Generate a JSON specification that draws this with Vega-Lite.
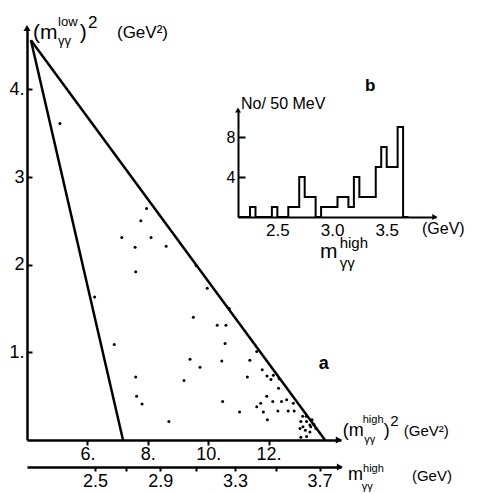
{
  "$schema": "https://vega.github.io/schema/vega-lite/v6.json",
  "width": 314,
  "height": 412,
  "autosize": "none",
  "padding": {"left": 27, "top": 28, "right": 139, "bottom": 54},
  "background": "white",
  "config": {
    "view": {"stroke": null},
    "font": "Liberation Sans",
    "axis": {"grid": false, "domainColor": "#000", "tickColor": "#000", "labelColor": "#000", "domainWidth": 2.5, "tickWidth": 2, "labelFont": "Liberation Sans", "labelFontSize": 18, "labelFlush": false, "labelOverlap": false},
    "text": {"font": "Liberation Sans", "color": "#000"}
  },
  "datasets": {
    "bounds": [
      {"x1": 4.13, "y1": 4.56, "x2": 7.18, "y2": 0},
      {"x1": 4.13, "y1": 4.56, "x2": 13.87, "y2": 0}
    ],
    "events": [
      {"x": 5.09, "y": 3.61}, {"x": 6.24, "y": 1.63}, {"x": 7.96, "y": 2.64}, {"x": 7.77, "y": 2.50},
      {"x": 7.14, "y": 2.31}, {"x": 8.11, "y": 2.31}, {"x": 7.58, "y": 2.20}, {"x": 8.61, "y": 2.21},
      {"x": 7.60, "y": 1.92}, {"x": 9.60, "y": 1.99}, {"x": 9.97, "y": 1.73}, {"x": 10.70, "y": 1.50},
      {"x": 9.51, "y": 1.40}, {"x": 10.30, "y": 1.31}, {"x": 10.59, "y": 1.31}, {"x": 6.89, "y": 1.09},
      {"x": 10.56, "y": 1.10}, {"x": 9.40, "y": 0.92}, {"x": 9.73, "y": 0.83}, {"x": 10.45, "y": 0.90},
      {"x": 9.20, "y": 0.68}, {"x": 7.60, "y": 0.72}, {"x": 7.63, "y": 0.50}, {"x": 7.81, "y": 0.41},
      {"x": 8.70, "y": 0.21}, {"x": 10.48, "y": 0.44}, {"x": 11.04, "y": 0.32}, {"x": 11.61, "y": 1.01},
      {"x": 11.38, "y": 0.91}, {"x": 11.79, "y": 0.80}, {"x": 11.30, "y": 0.72}, {"x": 11.95, "y": 0.73},
      {"x": 12.16, "y": 0.74}, {"x": 12.08, "y": 0.69}, {"x": 12.35, "y": 0.70}, {"x": 12.33, "y": 0.59},
      {"x": 11.94, "y": 0.50}, {"x": 11.74, "y": 0.42}, {"x": 11.61, "y": 0.38}, {"x": 12.14, "y": 0.44},
      {"x": 12.43, "y": 0.44}, {"x": 12.60, "y": 0.46}, {"x": 12.82, "y": 0.42}, {"x": 11.83, "y": 0.32},
      {"x": 12.31, "y": 0.33}, {"x": 12.65, "y": 0.33}, {"x": 12.85, "y": 0.33}, {"x": 11.96, "y": 0.23},
      {"x": 13.13, "y": 0.27}, {"x": 13.25, "y": 0.27}, {"x": 13.07, "y": 0.21}, {"x": 13.26, "y": 0.21},
      {"x": 13.14, "y": 0.15}, {"x": 13.04, "y": 0.13}, {"x": 13.22, "y": 0.11}, {"x": 13.37, "y": 0.09},
      {"x": 13.07, "y": 0.03}, {"x": 13.26, "y": 0.04}, {"x": 13.44, "y": 0.23}, {"x": 13.50, "y": 0.18},
      {"x": 13.40, "y": 0.15}, {"x": 13.57, "y": 0.13}, {"x": 13.37, "y": 0.17}
    ],
    "hist": [
      {"e": 2.14, "n": 0}, {"e": 2.25, "n": 1}, {"e": 2.30, "n": 0}, {"e": 2.45, "n": 1}, {"e": 2.50, "n": 0},
      {"e": 2.60, "n": 1}, {"e": 2.65, "n": 1}, {"e": 2.70, "n": 4}, {"e": 2.75, "n": 2}, {"e": 2.80, "n": 2},
      {"e": 2.85, "n": 0}, {"e": 2.90, "n": 1}, {"e": 2.95, "n": 1}, {"e": 3.00, "n": 1}, {"e": 3.05, "n": 2},
      {"e": 3.10, "n": 2}, {"e": 3.15, "n": 1}, {"e": 3.20, "n": 4}, {"e": 3.25, "n": 2}, {"e": 3.30, "n": 2},
      {"e": 3.35, "n": 2}, {"e": 3.40, "n": 5}, {"e": 3.45, "n": 7}, {"e": 3.50, "n": 5}, {"e": 3.55, "n": 5},
      {"e": 3.60, "n": 9}, {"e": 3.65, "n": 0}, {"e": 3.70, "n": 0}
    ],
    "yTitleBig": [{"x": 4.2, "y": 4.64, "t": "(m"}, {"x": 5.75, "y": 4.64, "t": ")"}],
    "yTitleSmall": [{"x": 5.03, "y": 4.77, "t": "low"}, {"x": 5.03, "y": 4.55, "t": "γγ"}],
    "yTitleMid": [{"x": 6.02, "y": 4.76, "t": "2"}, {"x": 6.98, "y": 4.64, "t": "(GeV²)"}],
    "xTitleBig": [{"x": 14.46, "y": 0.103, "t": "(m"}, {"x": 15.82, "y": 0.103, "t": ")"}, {"x": 14.63, "y": -0.40, "t": "m"}],
    "xTitleSmall": [
      {"x": 15.12, "y": 0.23, "t": "high"}, {"x": 15.17, "y": 0.0, "t": "γγ"},
      {"x": 15.13, "y": -0.33, "t": "high"}, {"x": 15.09, "y": -0.54, "t": "γγ"}
    ],
    "xTitleMid": [
      {"x": 16.03, "y": 0.22, "t": "2"}, {"x": 16.48, "y": 0.103, "t": "(GeV²)"},
      {"x": 16.75, "y": -0.41, "t": "(GeV)"}
    ],
    "panelA": [{"x": 13.83, "y": 0.87, "t": "a"}],
    "upArrow": [{"x": 4, "y": 4.7}],
    "rightArrow": [{"x": 14.33, "y": 0}],
    "arrow2": [{"m": 3.79, "v": -0.308}],
    "insetUp": [{"e": 2.14, "n": 10.7}],
    "insetRight": [{"e": 3.94, "n": 0}],
    "insetText": [{"e": 2.167, "n": 11.3, "t": "No/ 50 MeV"}, {"e": 3.823, "n": -1.2, "t": "(GeV)"}],
    "insetB": [{"e": 3.348, "n": 13.1, "t": "b"}],
    "insetBig": [{"e": 2.89, "n": -3.5, "t": "m"}],
    "insetSmall": [{"e": 3.07, "n": -2.6, "t": "high"}, {"e": 3.07, "n": -4.6, "t": "γγ"}]
  },
  "layer": [
    {
      "layer": [
        {
          "data": {"name": "bounds"},
          "mark": {"type": "rule", "color": "#000", "strokeWidth": 2.5},
          "encoding": {
            "x": {"field": "x1", "type": "quantitative", "title": null, "scale": {"domain": [4, 14.4], "nice": false, "zero": false},
              "axis": {"orient": "bottom", "values": [6, 8, 10, 12], "labelExpr": "datum.value + '.'", "tickSize": 5, "labelPadding": 0, "title": null}},
            "y": {"field": "y1", "type": "quantitative", "title": null, "scale": {"domain": [0, 4.7], "nice": false, "zero": false},
              "axis": {"orient": "left", "values": [1, 2, 3, 4], "labelExpr": "(datum.value == 1 || datum.value == 4) ? datum.value + '.' : '' + datum.value", "tickSize": -5, "labelPadding": 8, "title": null}},
            "x2": {"field": "x2"},
            "y2": {"field": "y2"}
          }
        },
        {
          "data": {"name": "events"},
          "mark": {"type": "circle", "size": 9, "color": "#000", "opacity": 1},
          "encoding": {
            "x": {"field": "x", "type": "quantitative", "title": null, "scale": {"domain": [4, 14.4], "nice": false, "zero": false}},
            "y": {"field": "y", "type": "quantitative", "title": null, "scale": {"domain": [0, 4.7], "nice": false, "zero": false}}
          }
        },
        {
          "data": {"name": "upArrow"},
          "mark": {"type": "point", "shape": "triangle-up", "filled": true, "size": 50, "color": "#000", "opacity": 1},
          "encoding": {
            "x": {"field": "x", "type": "quantitative", "title": null, "scale": {"domain": [4, 14.4], "nice": false, "zero": false}},
            "y": {"field": "y", "type": "quantitative", "title": null, "scale": {"domain": [0, 4.7], "nice": false, "zero": false}}
          }
        },
        {
          "data": {"name": "rightArrow"},
          "mark": {"type": "point", "shape": "triangle-right", "filled": true, "size": 50, "color": "#000", "opacity": 1},
          "encoding": {
            "x": {"field": "x", "type": "quantitative", "title": null, "scale": {"domain": [4, 14.4], "nice": false, "zero": false}},
            "y": {"field": "y", "type": "quantitative", "title": null, "scale": {"domain": [0, 4.7], "nice": false, "zero": false}}
          }
        },
        {
          "data": {"name": "yTitleBig"},
          "mark": {"type": "text", "align": "left", "baseline": "middle", "fontSize": 21},
          "encoding": {
            "x": {"field": "x", "type": "quantitative", "title": null, "scale": {"domain": [4, 14.4], "nice": false, "zero": false}},
            "y": {"field": "y", "type": "quantitative", "title": null, "scale": {"domain": [0, 4.7], "nice": false, "zero": false}},
            "text": {"field": "t"}
          }
        },
        {
          "data": {"name": "yTitleSmall"},
          "mark": {"type": "text", "align": "left", "baseline": "middle", "fontSize": 13},
          "encoding": {
            "x": {"field": "x", "type": "quantitative", "title": null, "scale": {"domain": [4, 14.4], "nice": false, "zero": false}},
            "y": {"field": "y", "type": "quantitative", "title": null, "scale": {"domain": [0, 4.7], "nice": false, "zero": false}},
            "text": {"field": "t"}
          }
        },
        {
          "data": {"name": "yTitleMid"},
          "mark": {"type": "text", "align": "left", "baseline": "middle", "fontSize": 17},
          "encoding": {
            "x": {"field": "x", "type": "quantitative", "title": null, "scale": {"domain": [4, 14.4], "nice": false, "zero": false}},
            "y": {"field": "y", "type": "quantitative", "title": null, "scale": {"domain": [0, 4.7], "nice": false, "zero": false}},
            "text": {"field": "t"}
          }
        },
        {
          "data": {"name": "xTitleBig"},
          "mark": {"type": "text", "align": "left", "baseline": "middle", "fontSize": 18},
          "encoding": {
            "x": {"field": "x", "type": "quantitative", "title": null, "scale": {"domain": [4, 14.4], "nice": false, "zero": false}},
            "y": {"field": "y", "type": "quantitative", "title": null, "scale": {"domain": [0, 4.7], "nice": false, "zero": false}},
            "text": {"field": "t"}
          }
        },
        {
          "data": {"name": "xTitleSmall"},
          "mark": {"type": "text", "align": "left", "baseline": "middle", "fontSize": 11},
          "encoding": {
            "x": {"field": "x", "type": "quantitative", "title": null, "scale": {"domain": [4, 14.4], "nice": false, "zero": false}},
            "y": {"field": "y", "type": "quantitative", "title": null, "scale": {"domain": [0, 4.7], "nice": false, "zero": false}},
            "text": {"field": "t"}
          }
        },
        {
          "data": {"name": "xTitleMid"},
          "mark": {"type": "text", "align": "left", "baseline": "middle", "fontSize": 15},
          "encoding": {
            "x": {"field": "x", "type": "quantitative", "title": null, "scale": {"domain": [4, 14.4], "nice": false, "zero": false}},
            "y": {"field": "y", "type": "quantitative", "title": null, "scale": {"domain": [0, 4.7], "nice": false, "zero": false}},
            "text": {"field": "t"}
          }
        },
        {
          "data": {"name": "panelA"},
          "mark": {"type": "text", "align": "center", "baseline": "middle", "fontSize": 18, "fontWeight": "bold"},
          "encoding": {
            "x": {"field": "x", "type": "quantitative", "title": null, "scale": {"domain": [4, 14.4], "nice": false, "zero": false}},
            "y": {"field": "y", "type": "quantitative", "title": null, "scale": {"domain": [0, 4.7], "nice": false, "zero": false}},
            "text": {"field": "t"}
          }
        }
      ]
    },
    {
      "data": {"name": "arrow2"},
      "mark": {"type": "point", "shape": "triangle-right", "filled": true, "size": 50, "color": "#000", "opacity": 1},
      "encoding": {
        "x": {"field": "m", "type": "quantitative", "title": null,
          "scale": {"type": "pow", "exponent": 2, "domain": [2, 3.7947], "nice": false, "zero": false},
          "axis": {"orient": "bottom", "offset": 27, "values": [2.5, 2.7, 2.9, 3.1, 3.3, 3.5, 3.7], "format": ".1f",
            "labelExpr": "(datum.label == '2.5' || datum.label == '2.9' || datum.label == '3.3' || datum.label == '3.7') ? datum.label : ''",
            "tickSize": 4, "labelPadding": 1, "title": null}},
        "y": {"field": "v", "type": "quantitative", "title": null, "scale": {"domain": [0, 4.7], "nice": false, "zero": false}, "axis": null}
      }
    },
    {
      "layer": [
        {
          "data": {"name": "hist"},
          "mark": {"type": "line", "interpolate": "step-after", "color": "#000", "strokeWidth": 2},
          "encoding": {
            "x": {"field": "e", "type": "quantitative", "title": null,
              "scale": {"domain": [2.14, 3.951], "range": [211, 409], "nice": false, "zero": false},
              "axis": {"orient": "bottom", "offset": -223, "values": [2.5, 3.0, 3.5], "format": ".1f", "ticks": false, "labelPadding": 5, "labelFontSize": 17, "domainWidth": 2, "title": null}},
            "y": {"field": "n", "type": "quantitative", "title": null,
              "scale": {"domain": [0, 10.7], "range": [189, 82], "nice": false, "zero": false},
              "axis": {"orient": "left", "offset": -211, "values": [4, 8], "tickSize": -7, "labelPadding": 10, "labelFontSize": 16, "domainWidth": 2, "title": null}}
          }
        },
        {
          "data": {"name": "insetUp"},
          "mark": {"type": "point", "shape": "triangle-up", "filled": true, "size": 35, "color": "#000", "opacity": 1},
          "encoding": {
            "x": {"field": "e", "type": "quantitative", "title": null, "scale": {"domain": [2.14, 3.951], "range": [211, 409], "nice": false, "zero": false}},
            "y": {"field": "n", "type": "quantitative", "title": null, "scale": {"domain": [0, 10.7], "range": [189, 82], "nice": false, "zero": false}}
          }
        },
        {
          "data": {"name": "insetRight"},
          "mark": {"type": "point", "shape": "triangle-right", "filled": true, "size": 35, "color": "#000", "opacity": 1},
          "encoding": {
            "x": {"field": "e", "type": "quantitative", "title": null, "scale": {"domain": [2.14, 3.951], "range": [211, 409], "nice": false, "zero": false}},
            "y": {"field": "n", "type": "quantitative", "title": null, "scale": {"domain": [0, 10.7], "range": [189, 82], "nice": false, "zero": false}}
          }
        },
        {
          "data": {"name": "insetText"},
          "mark": {"type": "text", "align": "left", "baseline": "middle", "fontSize": 16},
          "encoding": {
            "x": {"field": "e", "type": "quantitative", "title": null, "scale": {"domain": [2.14, 3.951], "range": [211, 409], "nice": false, "zero": false}},
            "y": {"field": "n", "type": "quantitative", "title": null, "scale": {"domain": [0, 10.7], "range": [189, 82], "nice": false, "zero": false}},
            "text": {"field": "t"}
          }
        },
        {
          "data": {"name": "insetB"},
          "mark": {"type": "text", "align": "center", "baseline": "middle", "fontSize": 17, "fontWeight": "bold"},
          "encoding": {
            "x": {"field": "e", "type": "quantitative", "title": null, "scale": {"domain": [2.14, 3.951], "range": [211, 409], "nice": false, "zero": false}},
            "y": {"field": "n", "type": "quantitative", "title": null, "scale": {"domain": [0, 10.7], "range": [189, 82], "nice": false, "zero": false}},
            "text": {"field": "t"}
          }
        },
        {
          "data": {"name": "insetBig"},
          "mark": {"type": "text", "align": "left", "baseline": "middle", "fontSize": 21},
          "encoding": {
            "x": {"field": "e", "type": "quantitative", "title": null, "scale": {"domain": [2.14, 3.951], "range": [211, 409], "nice": false, "zero": false}},
            "y": {"field": "n", "type": "quantitative", "title": null, "scale": {"domain": [0, 10.7], "range": [189, 82], "nice": false, "zero": false}},
            "text": {"field": "t"}
          }
        },
        {
          "data": {"name": "insetSmall"},
          "mark": {"type": "text", "align": "left", "baseline": "middle", "fontSize": 15},
          "encoding": {
            "x": {"field": "e", "type": "quantitative", "title": null, "scale": {"domain": [2.14, 3.951], "range": [211, 409], "nice": false, "zero": false}},
            "y": {"field": "n", "type": "quantitative", "title": null, "scale": {"domain": [0, 10.7], "range": [189, 82], "nice": false, "zero": false}},
            "text": {"field": "t"}
          }
        }
      ]
    }
  ],
  "resolve": {"scale": {"x": "independent", "y": "independent"}, "axis": {"x": "independent", "y": "independent"}}
}
